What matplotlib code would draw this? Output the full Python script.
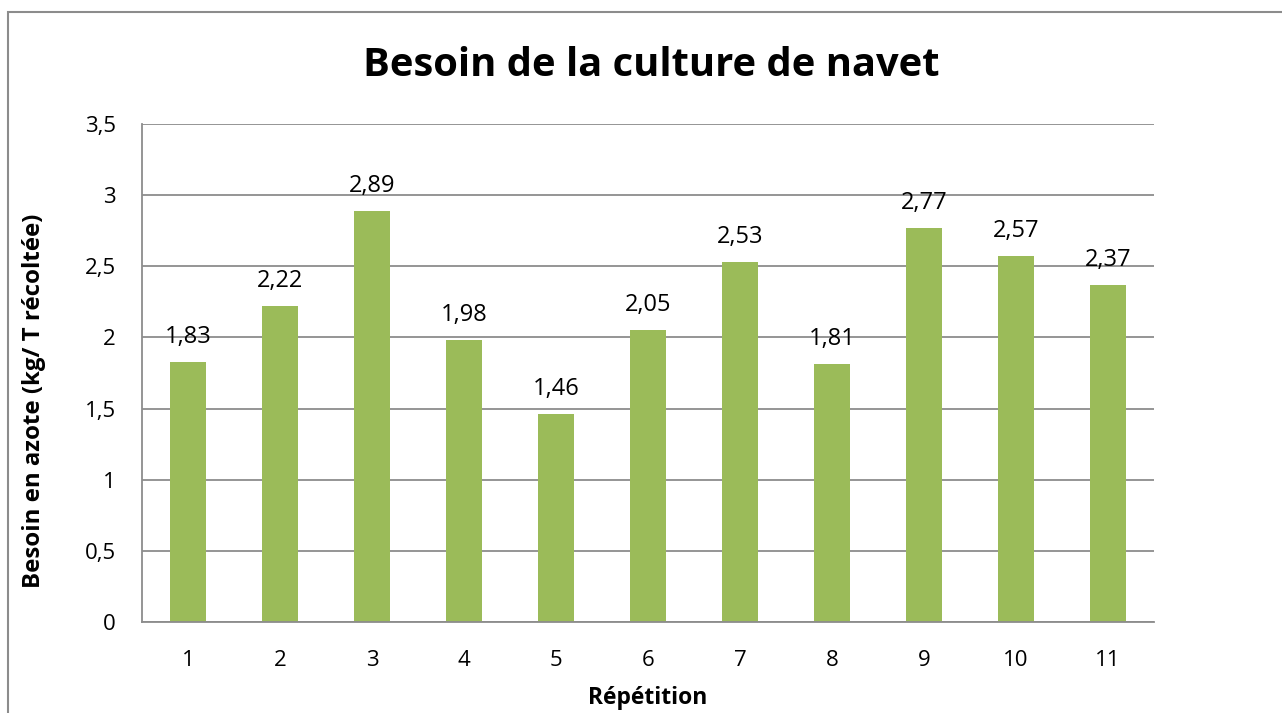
import matplotlib
matplotlib.use("Agg")
import matplotlib.pyplot as plt
from matplotlib.patches import Rectangle

repetitions = ["1", "2", "3", "4", "5", "6", "7", "8", "9", "10", "11"]
besoin = [1.83, 2.22, 2.89, 1.98, 1.46, 2.05, 2.53, 1.81, 2.77, 2.57, 2.37]
y_ticks = [0, 0.5, 1, 1.5, 2, 2.5, 3, 3.5]

plt.rcParams["font.family"] = ["Open Sans", "DejaVu Sans"]

fig = plt.figure(figsize=(12.82, 7.13), dpi=100)
ax = fig.add_axes([142 / 1282, 1 - 622 / 713, (1154 - 142) / 1282, (622 - 124) / 713])

# outer chart border (cut off at right / bottom like the reference)
fig.patches.append(Rectangle((8 / 1282, -0.2), 2.0, 1.2 - 11.5 / 713,
                             transform=fig.transFigure, fill=False,
                             edgecolor="#8c8c8c", linewidth=1.5))

x = range(len(repetitions))
ax.bar(x, besoin, width=0.4, color="#9BBB59", zorder=2)
for xi, v in zip(x, besoin):
    ax.annotate(f"{v:.2f}".replace(".", ","), (xi, v), xytext=(0, 13.7),
                textcoords="offset points", ha="center", va="baseline", fontsize=17)

ax.set_xlim(-0.5, len(repetitions) - 0.5)
ax.set_ylim(0, 3.5)
ax.set_xticks(list(x))
ax.set_xticklabels(repetitions, fontsize=16)
ax.set_yticks(y_ticks)
ax.set_yticklabels([f"{t:g}".replace(".", ",") for t in y_ticks], fontsize=16)
ax.tick_params(axis="x", length=0, pad=20)
ax.tick_params(axis="y", length=0, pad=19)
ax.yaxis.grid(True, color="#8c8c8c", linewidth=1.3, zorder=0)
ax.set_axisbelow(True)
for side in ("top", "right"):
    ax.spines[side].set_visible(False)
for side in ("left", "bottom"):
    ax.spines[side].set_color("#8c8c8c")
    ax.spines[side].set_linewidth(1.3)

ax.set_xlabel("Répétition", fontsize=16.5, fontweight="bold", va="center")
ax.xaxis.set_label_coords(0.5, (622 - 698) / 498)
ax.set_ylabel("Besoin en azote (kg/ T récoltée)", fontsize=17.3, fontweight="bold", va="center")
ax.yaxis.set_label_coords((34 - 142) / 1012, 0.5 - (401 - 373) / 498)
fig.text(651 / 1282, 1 - 65 / 713, "Besoin de la culture de navet", ha="center", va="center",
         fontsize=28.7, fontweight="bold")

fig.savefig("out.png", dpi=100)
